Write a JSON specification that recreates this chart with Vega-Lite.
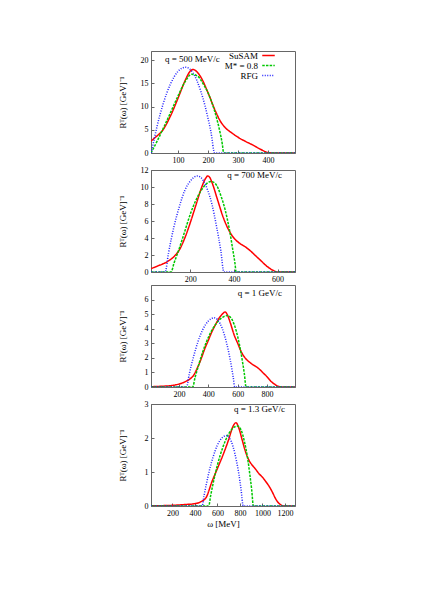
{
  "$schema": "https://vega.github.io/schema/vega-lite/v6.json",
  "padding": {"left": 117, "top": 50, "right": 5, "bottom": 5},
  "background": "white",
  "config": {
    "font": "Liberation Serif",
    "view": {"stroke": "#666", "strokeWidth": 1},
    "axis": {"grid": false, "domainColor": "#666", "tickColor": "#666", "tickSize": -3, "labelPadding": 6, "labelFontSize": 8, "labelColor": "#000", "labelFont": "Liberation Serif", "titleFont": "Liberation Serif", "titleFontSize": 9, "titleFontWeight": "normal", "titleColor": "#000", "labelFlush": false, "format": "d"},
    "title": {"font": "Liberation Serif", "fontSize": 9, "fontWeight": "normal", "color": "#000", "frame": "group"},
    "legend": {"labelFont": "Liberation Serif"}
  },
  "datasets": {
    "curves": [
      {"p":1,"m":"SuSAM","w":10,"r":2.6},{"p":1,"m":"SuSAM","w":25,"r":3.4},{"p":1,"m":"SuSAM","w":50,"r":5},{"p":1,"m":"SuSAM","w":75,"r":8},{"p":1,"m":"SuSAM","w":100,"r":11.8},{"p":1,"m":"SuSAM","w":125,"r":15.8},{"p":1,"m":"SuSAM","w":140,"r":17.6},{"p":1,"m":"SuSAM","w":150,"r":18},{"p":1,"m":"SuSAM","w":160,"r":17.7},{"p":1,"m":"SuSAM","w":175,"r":16.5},{"p":1,"m":"SuSAM","w":200,"r":13},{"p":1,"m":"SuSAM","w":225,"r":9},{"p":1,"m":"SuSAM","w":240,"r":7},{"p":1,"m":"SuSAM","w":260,"r":5.3},{"p":1,"m":"SuSAM","w":280,"r":4.3},{"p":1,"m":"SuSAM","w":300,"r":3.4},{"p":1,"m":"SuSAM","w":325,"r":2.5},{"p":1,"m":"SuSAM","w":350,"r":1.7},{"p":1,"m":"SuSAM","w":375,"r":0.8},{"p":1,"m":"SuSAM","w":400,"r":0.1},{"p":1,"m":"SuSAM","w":420,"r":0},{"p":1,"m":"SuSAM","w":490,"r":0},
      {"p":1,"m":"M* = 0.8","w":10,"r":0},{"p":1,"m":"M* = 0.8","w":30,"r":2.5},{"p":1,"m":"M* = 0.8","w":50,"r":5.2},{"p":1,"m":"M* = 0.8","w":75,"r":8.7},{"p":1,"m":"M* = 0.8","w":100,"r":12.3},{"p":1,"m":"M* = 0.8","w":125,"r":15.5},{"p":1,"m":"M* = 0.8","w":145,"r":17},{"p":1,"m":"M* = 0.8","w":165,"r":16.6},{"p":1,"m":"M* = 0.8","w":185,"r":14.8},{"p":1,"m":"M* = 0.8","w":200,"r":13},{"p":1,"m":"M* = 0.8","w":215,"r":10.5},{"p":1,"m":"M* = 0.8","w":230,"r":7.2},{"p":1,"m":"M* = 0.8","w":240,"r":4.5},{"p":1,"m":"M* = 0.8","w":248,"r":1.8},{"p":1,"m":"M* = 0.8","w":252,"r":0},{"p":1,"m":"M* = 0.8","w":490,"r":0},
      {"p":1,"m":"RFG","w":11,"r":0},{"p":1,"m":"RFG","w":20,"r":2.8},{"p":1,"m":"RFG","w":30,"r":5.7},{"p":1,"m":"RFG","w":50,"r":10.5},{"p":1,"m":"RFG","w":75,"r":14.9},{"p":1,"m":"RFG","w":100,"r":17.6},{"p":1,"m":"RFG","w":125,"r":18.5},{"p":1,"m":"RFG","w":150,"r":17.3},{"p":1,"m":"RFG","w":175,"r":13.5},{"p":1,"m":"RFG","w":190,"r":10.2},{"p":1,"m":"RFG","w":200,"r":7.5},{"p":1,"m":"RFG","w":210,"r":4.5},{"p":1,"m":"RFG","w":222,"r":0},{"p":1,"m":"RFG","w":490,"r":0},

      {"p":2,"m":"SuSAM","w":20,"r":0.4},{"p":2,"m":"SuSAM","w":50,"r":0.7},{"p":2,"m":"SuSAM","w":100,"r":1.3},{"p":2,"m":"SuSAM","w":125,"r":1.8},{"p":2,"m":"SuSAM","w":150,"r":2.6},{"p":2,"m":"SuSAM","w":175,"r":4},{"p":2,"m":"SuSAM","w":200,"r":5.8},{"p":2,"m":"SuSAM","w":225,"r":7.8},{"p":2,"m":"SuSAM","w":250,"r":9.8},{"p":2,"m":"SuSAM","w":270,"r":11},{"p":2,"m":"SuSAM","w":280,"r":11.3},{"p":2,"m":"SuSAM","w":290,"r":11.1},{"p":2,"m":"SuSAM","w":300,"r":10.5},{"p":2,"m":"SuSAM","w":325,"r":8.5},{"p":2,"m":"SuSAM","w":350,"r":6.5},{"p":2,"m":"SuSAM","w":375,"r":5},{"p":2,"m":"SuSAM","w":400,"r":4},{"p":2,"m":"SuSAM","w":425,"r":3.4},{"p":2,"m":"SuSAM","w":450,"r":3},{"p":2,"m":"SuSAM","w":475,"r":2.5},{"p":2,"m":"SuSAM","w":500,"r":1.9},{"p":2,"m":"SuSAM","w":525,"r":1.3},{"p":2,"m":"SuSAM","w":550,"r":0.7},{"p":2,"m":"SuSAM","w":575,"r":0.25},{"p":2,"m":"SuSAM","w":600,"r":0},{"p":2,"m":"SuSAM","w":680,"r":0},
      {"p":2,"m":"M* = 0.8","w":20,"r":0},{"p":2,"m":"M* = 0.8","w":112,"r":0},{"p":2,"m":"M* = 0.8","w":125,"r":1.0},{"p":2,"m":"M* = 0.8","w":150,"r":2.8},{"p":2,"m":"M* = 0.8","w":175,"r":4.8},{"p":2,"m":"M* = 0.8","w":200,"r":6.8},{"p":2,"m":"M* = 0.8","w":225,"r":8.4},{"p":2,"m":"M* = 0.8","w":250,"r":9.6},{"p":2,"m":"M* = 0.8","w":275,"r":10.4},{"p":2,"m":"M* = 0.8","w":295,"r":10.65},{"p":2,"m":"M* = 0.8","w":315,"r":10.4},{"p":2,"m":"M* = 0.8","w":340,"r":9.0},{"p":2,"m":"M* = 0.8","w":360,"r":7.3},{"p":2,"m":"M* = 0.8","w":380,"r":4.9},{"p":2,"m":"M* = 0.8","w":395,"r":2.6},{"p":2,"m":"M* = 0.8","w":405,"r":1.0},{"p":2,"m":"M* = 0.8","w":410,"r":0},{"p":2,"m":"M* = 0.8","w":680,"r":0},
      {"p":2,"m":"RFG","w":20,"r":0},{"p":2,"m":"RFG","w":85,"r":0},{"p":2,"m":"RFG","w":100,"r":2.2},{"p":2,"m":"RFG","w":125,"r":5.3},{"p":2,"m":"RFG","w":150,"r":7.7},{"p":2,"m":"RFG","w":175,"r":9.6},{"p":2,"m":"RFG","w":200,"r":10.7},{"p":2,"m":"RFG","w":233,"r":11.3},{"p":2,"m":"RFG","w":260,"r":10.75},{"p":2,"m":"RFG","w":280,"r":9.6},{"p":2,"m":"RFG","w":300,"r":7.9},{"p":2,"m":"RFG","w":320,"r":5.4},{"p":2,"m":"RFG","w":340,"r":2.5},{"p":2,"m":"RFG","w":354,"r":0},{"p":2,"m":"RFG","w":680,"r":0},

      {"p":3,"m":"SuSAM","w":10,"r":0.02},{"p":3,"m":"SuSAM","w":100,"r":0.06},{"p":3,"m":"SuSAM","w":150,"r":0.1},{"p":3,"m":"SuSAM","w":200,"r":0.2},{"p":3,"m":"SuSAM","w":250,"r":0.4},{"p":3,"m":"SuSAM","w":275,"r":0.55},{"p":3,"m":"SuSAM","w":300,"r":0.8},{"p":3,"m":"SuSAM","w":325,"r":1.3},{"p":3,"m":"SuSAM","w":350,"r":1.9},{"p":3,"m":"SuSAM","w":375,"r":2.6},{"p":3,"m":"SuSAM","w":400,"r":3.2},{"p":3,"m":"SuSAM","w":425,"r":3.8},{"p":3,"m":"SuSAM","w":450,"r":4.3},{"p":3,"m":"SuSAM","w":475,"r":4.75},{"p":3,"m":"SuSAM","w":500,"r":5.05},{"p":3,"m":"SuSAM","w":515,"r":5.15},{"p":3,"m":"SuSAM","w":530,"r":4.95},{"p":3,"m":"SuSAM","w":550,"r":4.4},{"p":3,"m":"SuSAM","w":575,"r":3.6},{"p":3,"m":"SuSAM","w":600,"r":3.0},{"p":3,"m":"SuSAM","w":625,"r":2.4},{"p":3,"m":"SuSAM","w":650,"r":2.0},{"p":3,"m":"SuSAM","w":675,"r":1.75},{"p":3,"m":"SuSAM","w":700,"r":1.55},{"p":3,"m":"SuSAM","w":725,"r":1.4},{"p":3,"m":"SuSAM","w":750,"r":1.2},{"p":3,"m":"SuSAM","w":775,"r":0.95},{"p":3,"m":"SuSAM","w":800,"r":0.7},{"p":3,"m":"SuSAM","w":825,"r":0.4},{"p":3,"m":"SuSAM","w":850,"r":0.2},{"p":3,"m":"SuSAM","w":875,"r":0.05},{"p":3,"m":"SuSAM","w":900,"r":0},{"p":3,"m":"SuSAM","w":990,"r":0},
      {"p":3,"m":"M* = 0.8","w":10,"r":0},{"p":3,"m":"M* = 0.8","w":294,"r":0},{"p":3,"m":"M* = 0.8","w":310,"r":0.66},{"p":3,"m":"M* = 0.8","w":330,"r":1.36},{"p":3,"m":"M* = 0.8","w":360,"r":2.35},{"p":3,"m":"M* = 0.8","w":400,"r":3.4},{"p":3,"m":"M* = 0.8","w":450,"r":4.3},{"p":3,"m":"M* = 0.8","w":500,"r":4.8},{"p":3,"m":"M* = 0.8","w":532,"r":4.9},{"p":3,"m":"M* = 0.8","w":560,"r":4.65},{"p":3,"m":"M* = 0.8","w":590,"r":3.85},{"p":3,"m":"M* = 0.8","w":610,"r":3.0},{"p":3,"m":"M* = 0.8","w":630,"r":1.9},{"p":3,"m":"M* = 0.8","w":645,"r":0.93},{"p":3,"m":"M* = 0.8","w":657,"r":0},{"p":3,"m":"M* = 0.8","w":990,"r":0},
      {"p":3,"m":"RFG","w":10,"r":0},{"p":3,"m":"RFG","w":252,"r":0},{"p":3,"m":"RFG","w":270,"r":0.87},{"p":3,"m":"RFG","w":300,"r":2.1},{"p":3,"m":"RFG","w":330,"r":3.12},{"p":3,"m":"RFG","w":360,"r":3.89},{"p":3,"m":"RFG","w":400,"r":4.53},{"p":3,"m":"RFG","w":440,"r":4.75},{"p":3,"m":"RFG","w":480,"r":4.36},{"p":3,"m":"RFG","w":510,"r":3.56},{"p":3,"m":"RFG","w":540,"r":2.33},{"p":3,"m":"RFG","w":560,"r":1.26},{"p":3,"m":"RFG","w":570,"r":0.64},{"p":3,"m":"RFG","w":580,"r":0},{"p":3,"m":"RFG","w":990,"r":0},

      {"p":4,"m":"SuSAM","w":10,"r":0.005},{"p":4,"m":"SuSAM","w":200,"r":0.02},{"p":4,"m":"SuSAM","w":300,"r":0.04},{"p":4,"m":"SuSAM","w":400,"r":0.07},{"p":4,"m":"SuSAM","w":450,"r":0.12},{"p":4,"m":"SuSAM","w":500,"r":0.25},{"p":4,"m":"SuSAM","w":550,"r":0.7},{"p":4,"m":"SuSAM","w":600,"r":1.1},{"p":4,"m":"SuSAM","w":650,"r":1.5},{"p":4,"m":"SuSAM","w":700,"r":1.95},{"p":4,"m":"SuSAM","w":740,"r":2.35},{"p":4,"m":"SuSAM","w":765,"r":2.45},{"p":4,"m":"SuSAM","w":790,"r":2.3},{"p":4,"m":"SuSAM","w":820,"r":1.95},{"p":4,"m":"SuSAM","w":850,"r":1.6},{"p":4,"m":"SuSAM","w":880,"r":1.35},{"p":4,"m":"SuSAM","w":910,"r":1.2},{"p":4,"m":"SuSAM","w":940,"r":1.08},{"p":4,"m":"SuSAM","w":970,"r":0.95},{"p":4,"m":"SuSAM","w":1000,"r":0.85},{"p":4,"m":"SuSAM","w":1030,"r":0.72},{"p":4,"m":"SuSAM","w":1060,"r":0.58},{"p":4,"m":"SuSAM","w":1090,"r":0.4},{"p":4,"m":"SuSAM","w":1120,"r":0.2},{"p":4,"m":"SuSAM","w":1150,"r":0.07},{"p":4,"m":"SuSAM","w":1180,"r":0.01},{"p":4,"m":"SuSAM","w":1200,"r":0},{"p":4,"m":"SuSAM","w":1290,"r":0},
      {"p":4,"m":"M* = 0.8","w":10,"r":0},{"p":4,"m":"M* = 0.8","w":523,"r":0},{"p":4,"m":"M* = 0.8","w":540,"r":0.3},{"p":4,"m":"M* = 0.8","w":560,"r":0.63},{"p":4,"m":"M* = 0.8","w":600,"r":1.2},{"p":4,"m":"M* = 0.8","w":650,"r":1.74},{"p":4,"m":"M* = 0.8","w":700,"r":2.12},{"p":4,"m":"M* = 0.8","w":750,"r":2.32},{"p":4,"m":"M* = 0.8","w":780,"r":2.35},{"p":4,"m":"M* = 0.8","w":810,"r":2.24},{"p":4,"m":"M* = 0.8","w":840,"r":1.9},{"p":4,"m":"M* = 0.8","w":870,"r":1.38},{"p":4,"m":"M* = 0.8","w":890,"r":0.89},{"p":4,"m":"M* = 0.8","w":905,"r":0.48},{"p":4,"m":"M* = 0.8","w":920,"r":0},{"p":4,"m":"M* = 0.8","w":1290,"r":0},
      {"p":4,"m":"RFG","w":10,"r":0},{"p":4,"m":"RFG","w":465,"r":0},{"p":4,"m":"RFG","w":480,"r":0.28},{"p":4,"m":"RFG","w":500,"r":0.61},{"p":4,"m":"RFG","w":530,"r":1.06},{"p":4,"m":"RFG","w":560,"r":1.42},{"p":4,"m":"RFG","w":600,"r":1.79},{"p":4,"m":"RFG","w":640,"r":2.0},{"p":4,"m":"RFG","w":680,"r":2.07},{"p":4,"m":"RFG","w":710,"r":1.99},{"p":4,"m":"RFG","w":740,"r":1.74},{"p":4,"m":"RFG","w":770,"r":1.32},{"p":4,"m":"RFG","w":790,"r":0.96},{"p":4,"m":"RFG","w":810,"r":0.5},{"p":4,"m":"RFG","w":830,"r":0},{"p":4,"m":"RFG","w":1290,"r":0}
    ]
  },
  "data": {"name": "curves"},
  "spacing": 0,
  "resolve": {"scale": {"x": "independent", "y": "independent"}, "legend": {"color": "independent", "strokeDash": "independent", "strokeWidth": "independent"}},
  "vconcat": [
    {
      "width": 144, "height": 102,
      "title": {"text": "q = 500 MeV/c", "anchor": "start", "offset": -13, "dx": 14},
      "transform": [{"filter": "datum.p == 1"}],
      "mark": {"type": "line", "interpolate": "monotone", "clip": true},
      "encoding": {
        "x": {"field": "w", "type": "quantitative", "scale": {"domain": [10, 490], "nice": false, "zero": false}, "axis": {"values": [100, 200, 300, 400], "title": null}},
        "y": {"field": "r", "type": "quantitative", "scale": {"domain": [0, 22], "nice": false}, "axis": {"values": [0, 5, 10, 15, 20], "title": "Rᵀ(ω) [GeV]⁻¹", "titleX": -24}},
        "color": {"field": "m", "type": "nominal", "sort": null, "scale": {"domain": ["SuSAM", "M* = 0.8", "RFG"], "range": ["#ff0000", "#00c800", "#2020ff"]},
          "legend": {"title": null, "orient": "none", "legendX": 113, "legendY": 0, "symbolType": "M-2.5,0H2.5", "symbolSize": 25, "labelAlign": "right", "labelOffset": -15, "labelFontSize": 9, "labelColor": "#000", "rowPadding": -1, "padding": 0}},
        "strokeDash": {"field": "m", "type": "nominal", "sort": null, "scale": {"domain": ["SuSAM", "M* = 0.8", "RFG"], "range": [[1, 0], [2.5, 1.2], [1, 1.5]]}},
        "strokeWidth": {"field": "m", "type": "nominal", "sort": null, "scale": {"domain": ["SuSAM", "M* = 0.8", "RFG"], "range": [1.5, 1.5, 0.9]}}
      }
    },
    {
      "width": 144, "height": 102,
      "title": {"text": "q = 700 MeV/c", "anchor": "end", "offset": -14, "dx": -13},
      "transform": [{"filter": "datum.p == 2"}],
      "mark": {"type": "line", "interpolate": "monotone", "clip": true},
      "encoding": {
        "x": {"field": "w", "type": "quantitative", "scale": {"domain": [20, 680], "nice": false, "zero": false}, "axis": {"values": [200, 400, 600], "title": null}},
        "y": {"field": "r", "type": "quantitative", "scale": {"domain": [0, 12], "nice": false}, "axis": {"values": [0, 2, 4, 6, 8, 10, 12], "title": "Rᵀ(ω) [GeV]⁻¹", "titleX": -24}},
        "color": {"field": "m", "type": "nominal", "sort": null, "scale": {"domain": ["SuSAM", "M* = 0.8", "RFG"], "range": ["#ff0000", "#00c800", "#2020ff"]}, "legend": null},
        "strokeDash": {"field": "m", "type": "nominal", "sort": null, "scale": {"domain": ["SuSAM", "M* = 0.8", "RFG"], "range": [[1, 0], [2.5, 1.2], [1, 1.5]]}, "legend": null},
        "strokeWidth": {"field": "m", "type": "nominal", "sort": null, "scale": {"domain": ["SuSAM", "M* = 0.8", "RFG"], "range": [1.5, 1.5, 0.9]}, "legend": null}
      }
    },
    {
      "width": 144, "height": 102,
      "title": {"text": "q = 1 GeV/c", "anchor": "end", "offset": -13, "dx": -13},
      "transform": [{"filter": "datum.p == 3"}],
      "mark": {"type": "line", "interpolate": "monotone", "clip": true},
      "encoding": {
        "x": {"field": "w", "type": "quantitative", "scale": {"domain": [10, 990], "nice": false, "zero": false}, "axis": {"values": [200, 400, 600, 800], "title": null}},
        "y": {"field": "r", "type": "quantitative", "scale": {"domain": [0, 7], "nice": false}, "axis": {"values": [0, 1, 2, 3, 4, 5, 6], "title": "Rᵀ(ω) [GeV]⁻¹", "titleX": -24}},
        "color": {"field": "m", "type": "nominal", "sort": null, "scale": {"domain": ["SuSAM", "M* = 0.8", "RFG"], "range": ["#ff0000", "#00c800", "#2020ff"]}, "legend": null},
        "strokeDash": {"field": "m", "type": "nominal", "sort": null, "scale": {"domain": ["SuSAM", "M* = 0.8", "RFG"], "range": [[1, 0], [2.5, 1.2], [1, 1.5]]}, "legend": null},
        "strokeWidth": {"field": "m", "type": "nominal", "sort": null, "scale": {"domain": ["SuSAM", "M* = 0.8", "RFG"], "range": [1.5, 1.5, 0.9]}, "legend": null}
      }
    },
    {
      "width": 144, "height": 102,
      "title": {"text": "q = 1.3 GeV/c", "anchor": "end", "offset": -14, "dx": -10},
      "transform": [{"filter": "datum.p == 4"}],
      "mark": {"type": "line", "interpolate": "monotone", "clip": true},
      "encoding": {
        "x": {"field": "w", "type": "quantitative", "scale": {"domain": [10, 1290], "nice": false, "zero": false}, "axis": {"values": [200, 400, 600, 800, 1000, 1200], "title": "ω [MeV]", "titlePadding": 2}},
        "y": {"field": "r", "type": "quantitative", "scale": {"domain": [0, 3], "nice": false}, "axis": {"values": [0, 1, 2, 3], "title": "Rᵀ(ω) [GeV]⁻¹", "titleX": -24}},
        "color": {"field": "m", "type": "nominal", "sort": null, "scale": {"domain": ["SuSAM", "M* = 0.8", "RFG"], "range": ["#ff0000", "#00c800", "#2020ff"]}, "legend": null},
        "strokeDash": {"field": "m", "type": "nominal", "sort": null, "scale": {"domain": ["SuSAM", "M* = 0.8", "RFG"], "range": [[1, 0], [2.5, 1.2], [1, 1.5]]}, "legend": null},
        "strokeWidth": {"field": "m", "type": "nominal", "sort": null, "scale": {"domain": ["SuSAM", "M* = 0.8", "RFG"], "range": [1.5, 1.5, 0.9]}, "legend": null}
      }
    }
  ]
}
